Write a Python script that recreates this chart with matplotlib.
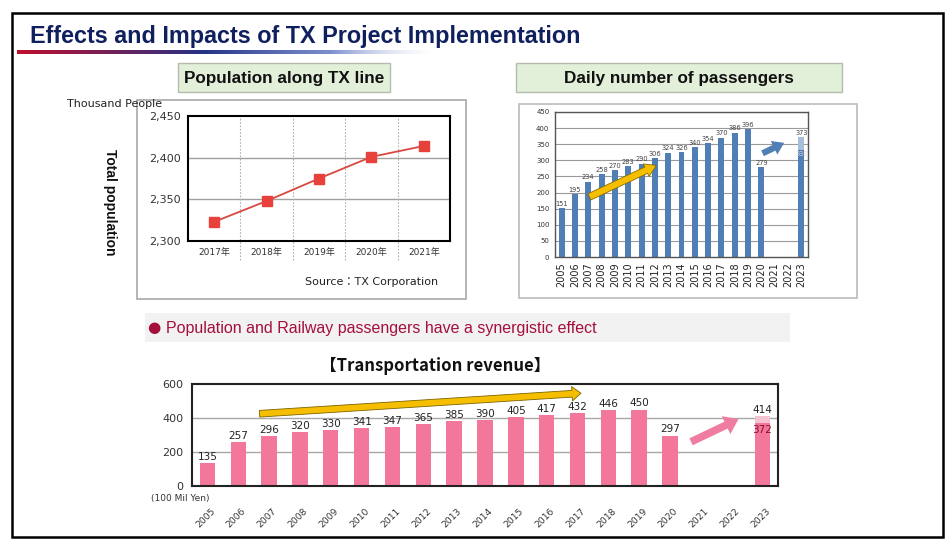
import numpy as np
import matplotlib
matplotlib.use("Agg")
import matplotlib.pyplot as plt
from matplotlib.patches import Rectangle, FancyArrowPatch

plt.rcParams['font.family'] = ['Liberation Sans', 'DejaVu Sans', 'Noto Sans CJK JP']

# ---- data ----
pop_years = ['2017年', '2018年', '2019年', '2020年', '2021年']
pop_values = [2323, 2348, 2375, 2401, 2414]
pop_ticks = [2300, 2350, 2400, 2450]

pass_years = [str(y) for y in range(2005, 2024)]
pass_values = [151, 195, 234, 258, 270, 283, 290, 306, 324, 326, 340, 354, 370, 386, 396, 279, None, None, 332]
pass_2023_target = 373
pass_ticks = list(range(0, 451, 50))

rev_years = [str(y) for y in range(2005, 2024)]
rev_values = [135, 257, 296, 320, 330, 341, 347, 365, 385, 390, 405, 417, 432, 446, 450, 297, None, None, 372]
rev_2023_target = 414
rev_ticks = [0, 200, 400, 600]

# trend arrows (year index, value)
pass_trend = [(1.9, 183), (7.3, 288)]
pass_recover = [(14.9, 318), (16.9, 358)]
rev_trend = [(1.6, 424), (12.2, 547)]
rev_recover = [(15.6, 253), (17.3, 400)]

W, H = 953, 547
fig = plt.figure(figsize=(W / 100, H / 100), dpi=100)


def box(x0, y0, x1, y1):
    return [x0 / W, 1 - y1 / H, (x1 - x0) / W, (y1 - y0) / H]


# ---- slide background / decorations ----
bg = fig.add_axes([0, 0, 1, 1])
bg.set_xlim(0, W)
bg.set_ylim(H, 0)
bg.axis('off')

bg.add_patch(Rectangle((12, 13), 931, 524, fill=False, ec='black', lw=1.8))
bg.text(30, 36, 'Effects and Impacts of TX Project Implementation', fontsize=16.8,
        fontweight='bold', color='#10205e', va='center', ha='left')

# gradient rule under the title
stops = np.array([0.0, 0.45, 0.75, 1.0])
cols = np.array([[0.75, 0.06, 0.18, 1.0],
                 [0.14, 0.20, 0.52, 1.0],
                 [0.35, 0.45, 0.75, 0.8],
                 [0.85, 0.88, 0.96, 0.0]])
t = np.linspace(0, 1, 300)
grad = np.stack([np.interp(t, stops, cols[:, k]) for k in range(4)], axis=-1)[None, :, :]
bg.imshow(grad, extent=[17, 435, 54, 50], aspect='auto', interpolation='bilinear')
bg.set_xlim(0, W)
bg.set_ylim(H, 0)

for (x0, y0, x1, y1, label) in [(178, 63, 390, 92, 'Population along TX line'),
                                (516, 63, 842, 92, 'Daily number of passengers')]:
    bg.add_patch(Rectangle((x0, y0), x1 - x0, y1 - y0, fc='#e2efd9', ec='#b4bcae', lw=1))
    bg.text((x0 + x1) / 2, (y0 + y1) / 2 + 1, label, fontsize=12.3, fontweight='bold',
            ha='center', va='center', color='#111111')

bg.add_patch(Rectangle((137, 100), 329, 199, fill=False, ec='#a8a8a8', lw=1.2))
bg.add_patch(Rectangle((519, 104), 338, 194, fill=False, ec='#bbbbbb', lw=1.2))

bg.text(67, 104, 'Thousand People', fontsize=8, ha='left', va='center', color='#222222',
        family='DejaVu Sans')
bg.text(110, 202, 'Total population', fontsize=10, fontweight='bold', rotation=270,
        ha='center', va='center', color='#111111')
bg.text(305, 282, 'Source：TX Corporation', fontsize=8, ha='left', va='center',
        family=['DejaVu Sans', 'Noto Sans CJK JP'], color='#222222')

bg.add_patch(Rectangle((145, 313), 645, 29, fc='#f2f2f2', ec='none'))
bg.text(147, 328, '●', fontsize=11, color='#a50f3b', ha='left', va='center',
        family='DejaVu Sans')
bg.text(166, 328, 'Population and Railway passengers have a synergistic effect',
        fontsize=11.5, color='#a50f3b', ha='left', va='center')

bg.text(435, 366, '【Transportation revenue】', fontsize=12, fontweight='bold',
        ha='center', va='center', family=['Noto Sans CJK JP'], color='#111111')
bg.text(180, 498, '(100 Mil Yen)', fontsize=6.5, ha='center', va='center',
        color='#333333', family='DejaVu Sans')

# ---- population line chart ----
ax1 = fig.add_axes(box(188, 116, 450, 241))
xp = np.arange(len(pop_years))
ax1.set_xlim(-0.5, len(pop_years) - 0.5)
ax1.set_ylim(pop_ticks[0], pop_ticks[-1])
for v in pop_ticks[1:-1]:
    ax1.axhline(v, color='#a0a0a0', lw=1, zorder=1)
for xb in xp[:-1] + 0.5:
    ax1.plot([xb, xb], [2277, pop_ticks[-1]], color='#b0b0b0', lw=0.8, ls=(0, (1.5, 1.5)),
             clip_on=False, zorder=1)
ax1.plot(xp, pop_values, color='#d9483f', lw=1.3, marker='s', ms=6.5,
         mfc='#e8403a', mec='#e8403a', zorder=3)
ax1.set_yticks(pop_ticks)
ax1.set_yticklabels([f'{v:,}' for v in pop_ticks], fontsize=8, color='#333333',
                    family='DejaVu Sans')
ax1.set_xticks(xp)
ax1.set_xticklabels(pop_years, fontsize=6.5, color='#333333',
                    family=['DejaVu Sans', 'Noto Sans CJK JP'])
ax1.tick_params(length=0, pad=5)
for s in ax1.spines.values():
    s.set_linewidth(1.5)
    s.set_color('black')

# ---- daily passengers bar chart ----
ax2 = fig.add_axes(box(555, 112, 808, 257))
xb2 = np.arange(len(pass_years))
ax2.set_xlim(-0.5, len(pass_years) - 0.5)
ax2.set_ylim(0, 450)
for v in pass_ticks[1:]:
    ax2.axhline(v, color='#9a9a9a', lw=0.8, zorder=1)
blue = '#4f7fb5'
for i, v in enumerate(pass_values):
    if v is None:
        continue
    ax2.bar(i, v, width=0.45, color=blue, zorder=2)
    if i == len(pass_values) - 1:
        ax2.bar(i, pass_2023_target - v, bottom=v, width=0.45, color='#a7bfdc', zorder=2)
        ax2.text(i, pass_2023_target + 4, str(pass_2023_target), fontsize=4.8,
                 ha='center', va='bottom', color='#444444', family='DejaVu Sans')
        ax2.text(i, v - 3, str(v), fontsize=4.8, ha='center', va='top',
                 color='#dddddd', family='DejaVu Sans', zorder=3)
    else:
        ax2.text(i, v + 4, str(v), fontsize=4.8, ha='center', va='bottom',
                 color='#444444', family='DejaVu Sans')
ax2.set_yticks(pass_ticks)
ax2.set_yticklabels([str(v) for v in pass_ticks], fontsize=5, color='#333333',
                    family='DejaVu Sans')
ax2.set_xticks(xb2)
ax2.set_xticklabels(pass_years, rotation=90, fontsize=7, color='#222222',
                    family='DejaVu Sans')
ax2.tick_params(length=0, pad=4)
for s in ax2.spines.values():
    s.set_linewidth(1)
    s.set_color('#555555')

ax2.add_patch(FancyArrowPatch(pass_trend[0], pass_trend[1],
                              arrowstyle='simple,head_length=0.9,head_width=1.1,tail_width=0.55',
                              mutation_scale=9, fc='#f5be00', ec='#8a6d00', lw=0.6, zorder=5))
ax2.add_patch(FancyArrowPatch(pass_recover[0], pass_recover[1],
                              arrowstyle='simple,head_length=0.9,head_width=1.2,tail_width=0.5',
                              mutation_scale=9, fc='#4f7fb5', ec='none', zorder=5))

# ---- transportation revenue bar chart ----
ax3 = fig.add_axes(box(192, 384, 778, 486))
xb3 = np.arange(len(rev_years))
ax3.set_xlim(-0.5, len(rev_years) - 0.5)
ax3.set_ylim(0, 600)
for v in rev_ticks[1:-1]:
    ax3.axhline(v, color='#a8a8a8', lw=1, zorder=1)
pink = '#f2779a'
for i, v in enumerate(rev_values):
    if v is None:
        continue
    ax3.bar(i, v, width=0.5, color=pink, zorder=2)
    if i == len(rev_values) - 1:
        ax3.bar(i, rev_2023_target - v, bottom=v, width=0.5, color='#f6c3d0', zorder=2)
        ax3.text(i, rev_2023_target + 6, str(rev_2023_target), fontsize=7.5,
                 ha='center', va='bottom', color='#222222', family='DejaVu Sans')
        ax3.text(i, v - 40, str(v), fontsize=7.5, ha='center', va='center',
                 color='#8a0d2a', family='DejaVu Sans', zorder=3)
    else:
        ax3.text(i, v + 6, str(v), fontsize=7.5, ha='center', va='bottom',
                 color='#222222', family='DejaVu Sans')
ax3.set_yticks(rev_ticks)
ax3.set_yticklabels([str(v) for v in rev_ticks], fontsize=8, color='#333333',
                    family='DejaVu Sans')
ax3.set_xticks(xb3)
ax3.set_xticklabels([])
ax3.tick_params(length=0, pad=6)
for i, y in enumerate(rev_years):
    ax3.text(i + 0.1, -0.2, y, transform=ax3.get_xaxis_transform(), rotation=45,
             rotation_mode='anchor', ha='right', va='top', fontsize=6.6,
             color='#333333', family='DejaVu Sans')
for s in ax3.spines.values():
    s.set_linewidth(1.5)
    s.set_color('#222222')

ax3.add_patch(FancyArrowPatch(rev_trend[0], rev_trend[1],
                              arrowstyle='simple,head_length=0.8,head_width=1.3,tail_width=0.6',
                              mutation_scale=8, fc='#f5be00', ec='#7d6500', lw=0.6,
                              zorder=5, clip_on=False))
ax3.add_patch(FancyArrowPatch(rev_recover[0], rev_recover[1],
                              arrowstyle='simple,head_length=0.9,head_width=1.3,tail_width=0.5',
                              mutation_scale=11, fc='#f07ca0', ec='none', zorder=5))

fig.savefig('out.png', dpi=100)
